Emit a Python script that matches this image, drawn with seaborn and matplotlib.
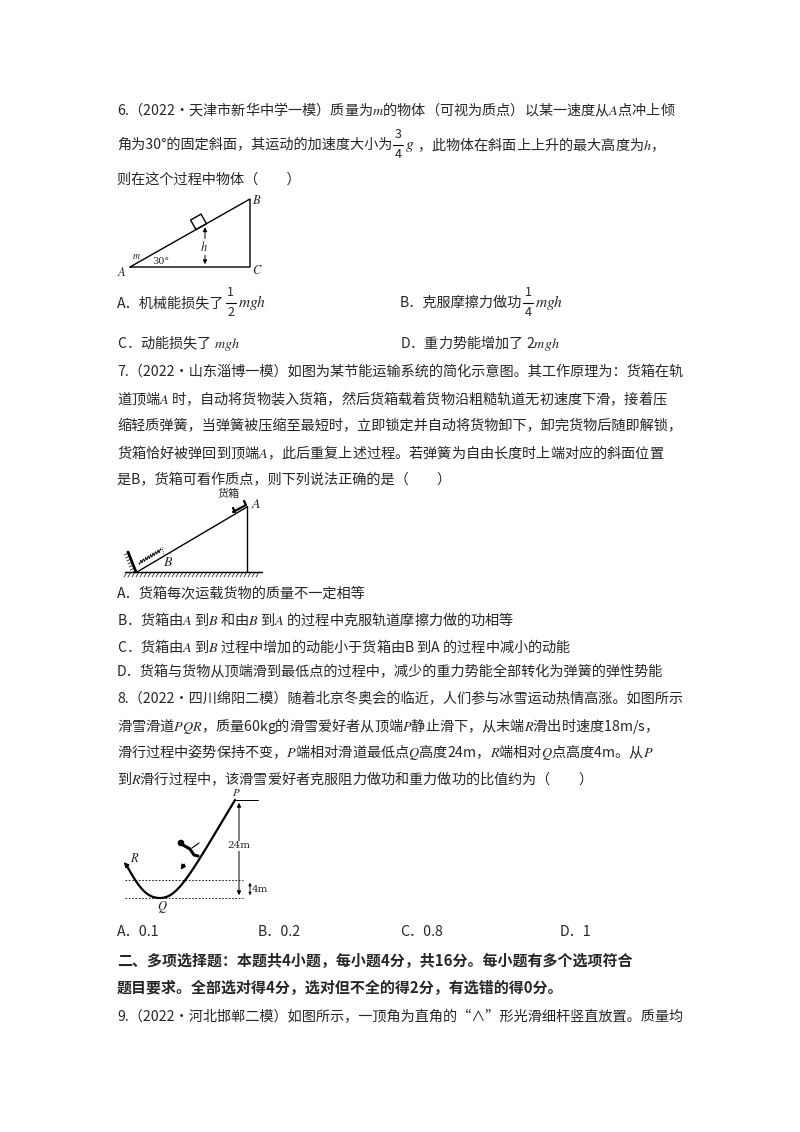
import matplotlib
matplotlib.use("Agg")
import matplotlib.pyplot as plt
import seaborn as sns
import numpy as np
import pandas as pd

sns.set_theme(style="white")
plt.rcParams['font.family'] = ['Noto Sans CJK SC', 'DejaVu Sans']
plt.rcParams['mathtext.fontset'] = 'stix'

# ---- text content ----
para_lines = [
    (117, 110, "6.（2022·天津市新华中学一模）质量为$m$的物体（可视为质点）以某一速度从$A$点冲上倾"),
    (117, 180, "则在这个过程中物体（　　）"),
    (117, 372, "7.（2022·山东淄博一模）如图为某节能运输系统的简化示意图。其工作原理为：货箱在轨"),
    (117, 399, "道顶端$A$ 时，自动将货物装入货箱，然后货箱载着货物沿粗糙轨道无初速度下滑，接着压"),
    (117, 426, "缩轻质弹簧，当弹簧被压缩至最短时，立即锁定并自动将货物卸下，卸完货物后随即解锁，"),
    (117, 453, "货箱恰好被弹回到顶端$A$，此后重复上述过程。若弹簧为自由长度时上端对应的斜面位置"),
    (117, 480, "是B，货箱可看作质点，则下列说法正确的是（　　）"),
    (117, 593, "A．货箱每次运载货物的质量不一定相等"),
    (117, 619, "B．货箱由$A$ 到$B$ 和由$B$ 到$A$ 的过程中克服轨道摩擦力做的功相等"),
    (117, 646, "C．货箱由$A$ 到$B$ 过程中增加的动能小于货箱由B 到A 的过程中减小的动能"),
    (117, 672, "D．货箱与货物从顶端滑到最低点的过程中，减少的重力势能全部转化为弹簧的弹性势能"),
    (117, 699, "8.（2022·四川绵阳二模）随着北京冬奥会的临近，人们参与冰雪运动热情高涨。如图所示"),
    (117, 726, "滑雪滑道$PQR$，质量60kg的滑雪爱好者从顶端$P$静止滑下，从末端$R$滑出时速度18m/s，"),
    (117, 752, "滑行过程中姿势保持不变，$P$端相对滑道最低点$Q$高度24m，$R$端相对$Q$点高度4m。从$P$"),
    (117, 779, "到$R$滑行过程中，该滑雪爱好者克服阻力做功和重力做功的比值约为（　　）"),
    (117, 1017, "9.（2022·河北邯郸二模）如图所示，一顶角为直角的“∧”形光滑细杆竖直放置。质量均"),
]
line2_a = "角为30°的固定斜面，其运动的加速度大小为"
line2_b = "，此物体在斜面上上升的最大高度为$h$，"
line2_y = 145
bold_lines = [
    (117, 961, "二、多项选择题：本题共4小题，每小题4分，共16分。每小题有多个选项符合"),
    (117, 988, "题目要求。全部选对得4分，选对但不全的得2分，有选错的得0分。"),
]
options6 = [
    (117, 303, "A．机械能损失了", "1", "2", "$mgh$"),
    (400, 303, "B．克服摩擦力做功", "1", "4", "$mgh$"),
]
options6b = [
    (117, 343, "C．动能损失了 $mgh$"),
    (400, 343, "D．重力势能增加了 2$mgh$"),
]
options8 = ["A．0.1", "B．0.2", "C．0.8", "D．1"]
options8_x = [117, 258, 400, 560]
options8_y = 932

fig = plt.figure(figsize=(8, 11.32), dpi=100)
ax = fig.add_axes([0, 0, 1, 1])
ax.set_xlim(0, 800)
ax.set_ylim(1132, 0)
ax.axis("off")
renderer = fig.canvas.get_renderer()
inv = ax.transData.inverted()

def right_edge(t):
    bb = t.get_window_extent(renderer)
    return inv.transform((bb.x1, bb.y1))[0]

FS = 10.2
for x, y, t in para_lines:
    ax.text(x, y, t, fontsize=FS, va="center", ha="left")
for x, y, t in bold_lines:
    ax.text(x, y, t, fontsize=FS + 0.6, va="center", ha="left", fontweight="bold")
for x, y, t in options6b:
    ax.text(x, y, t, fontsize=FS, va="center")

def frac(xl, y, n, d):
    fx = xl + 6
    ax.text(fx, y - 10, n, fontsize=9, ha="center", va="center")
    ax.plot([fx - 5, fx + 5], [y, y], color="black", lw=0.8)
    ax.text(fx, y + 10, d, fontsize=9, ha="center", va="center")
    return fx + 7

t = ax.text(117, line2_y, line2_a, fontsize=FS, va="center")
xe = frac(right_edge(t), line2_y, "3", "4")
tg = ax.text(xe, line2_y, "$g$", fontsize=FS + 1, va="center")
ax.text(right_edge(tg) + 2, line2_y, line2_b, fontsize=FS, va="center")

for x, y, tt, n, d, m in options6:
    t = ax.text(x, y, tt, fontsize=FS, va="center")
    xe = frac(right_edge(t), y, n, d)
    ax.text(xe, y, m, fontsize=FS + 1, va="center")
for x, tt in zip(options8_x, options8):
    ax.text(x, options8_y, tt, fontsize=FS, va="center")

# ---- diagram 1: incline ----
tri = pd.DataFrame({"x": [130, 250, 250, 130], "y": [267, 267, 199, 267]})
sns.lineplot(data=tri, x="x", y="y", sort=False, color="black", lw=1, ax=ax, estimator=None)
slope = (267 - 199) / 120.0
ang = np.arctan(slope)
bx = 196
by = 267 - (bx - 130) * slope
c, s = np.cos(ang), np.sin(ang)
pts = np.array([[0, 0], [12, 0], [12, -11], [0, -11], [0, 0]])
rx = bx + pts[:, 0] * c + pts[:, 1] * s
ry = by - pts[:, 0] * s + pts[:, 1] * c
ax.plot(rx, ry, color="black", lw=1)
hx = 205
ax.annotate("", xy=(hx, 267), xytext=(hx, 267 - (hx - 130) * slope),
            arrowprops=dict(arrowstyle="<|-|>", lw=0.7, color="black", mutation_scale=6))
ax.text(hx - 1, 247, "$h$", fontsize=9, ha="center", va="center",
        bbox=dict(fc="white", ec="none", pad=0.5))
ax.text(152, 261, "30°", fontsize=7, va="center", family="DejaVu Serif")
ax.text(127, 273, "$A$", fontsize=9, ha="right", va="center")
ax.text(252, 270, "$C$", fontsize=9, va="center")
ax.text(252, 200, "$B$", fontsize=9, va="center")
ax.add_patch(matplotlib.patches.FancyBboxPatch((129, 252), 14, 8, boxstyle="round,pad=0.5",
                                               fill=False, ls="--", lw=0.7))
ax.text(136, 256, "$m$", fontsize=7, ha="center", va="center")

# ---- diagram 2: conveyor ----
ax.plot([125, 262], [572, 572], color="black", lw=1)
for hx2 in np.arange(127, 262, 4):
    ax.plot([hx2, hx2 - 3], [572, 577], color="black", lw=0.5)
ax.plot([247, 247], [572, 506], color="black", lw=1)
ax.plot([137, 247], [572, 507], color="black", lw=1)
ax.plot([128, 136], [552, 572], color="black", lw=2)
for hy in np.arange(553, 572, 3):
    ax.plot([128 + (hy - 552) * 0.4, 124 + (hy - 552) * 0.4], [hy, hy + 2], color="black", lw=0.5)
sl = 65 / 110.0
u = np.linspace(0, 1, 80)
sx = 139 + u * 22
sy = 563 - (sx - 139) * sl + 1.6 * np.sin(u * 2 * np.pi * 9)
ax.plot(sx, sy, color="black", lw=0.6)
ax.plot([162, 164], [547, 556], color="black", lw=0.6, ls=":")
ax.plot([233, 246, 244], [512, 505, 501], color="black", lw=1.6)
ax.plot([235, 233], [512, 508], color="black", lw=1.6)
ax.text(218, 494, "货箱", fontsize=8, va="center")
ax.text(251, 504, "$A$", fontsize=10, va="center")
ax.text(163, 562, "$B$", fontsize=10, va="center")

# ---- diagram 3: ski track ----
def bez(p0, p1, p2, p3, n=60):
    tt = np.linspace(0, 1, n)[:, None]
    p = ((1 - tt) ** 3 * np.array(p0) + 3 * (1 - tt) ** 2 * tt * np.array(p1)
         + 3 * (1 - tt) * tt ** 2 * np.array(p2) + tt ** 3 * np.array(p3))
    return p[:, 0], p[:, 1]
lx, ly = bez((127, 866), (140, 890), (148, 898), (160, 898))
rx3, ry3 = bez((160, 898), (178, 898), (190, 875), (235, 800))
ax.plot(np.r_[lx, rx3], np.r_[ly, ry3], color="black", lw=1.6)
ax.annotate("", xy=(122, 860), xytext=(128, 867),
            arrowprops=dict(arrowstyle="-|>", lw=1, color="black", mutation_scale=7))
for yy in [880, 898]:
    ax.plot([125, 243], [yy, yy], color="black", lw=0.6, ls=(0, (2, 2)))
ax.plot([235, 258], [800, 800], color="black", lw=0.7)
ax.annotate("", xy=(239, 800), xytext=(239, 898),
            arrowprops=dict(arrowstyle="<|-|>", lw=0.7, color="black", mutation_scale=6))
ax.annotate("", xy=(250, 880), xytext=(250, 898),
            arrowprops=dict(arrowstyle="<|-|>", lw=0.6, color="black", mutation_scale=4))
ax.text(239, 846, "24m", fontsize=7.5, va="center", ha="center", family="DejaVu Serif",
        bbox=dict(fc="white", ec="none", pad=0.3))
ax.text(252, 890, "4m", fontsize=7.5, va="center", family="DejaVu Serif")
ax.text(232, 793, "$P$", fontsize=8, va="center")
ax.text(157, 907, "$Q$", fontsize=9, va="center")
ax.text(130, 858, "$R$", fontsize=9, va="center")
ax.add_patch(matplotlib.patches.Circle((181, 843), 2.6, color="black"))
ax.plot([183, 190, 194, 198], [845, 849, 855, 856], color="black", lw=2.2)
ax.plot([192, 199], [848, 843], color="black", lw=0.8)
ax.annotate("", xy=(179, 872), xytext=(186, 862),
            arrowprops=dict(arrowstyle="-|>", lw=1, color="black", mutation_scale=7))

fig.savefig("out.png", dpi=100, facecolor="white")
